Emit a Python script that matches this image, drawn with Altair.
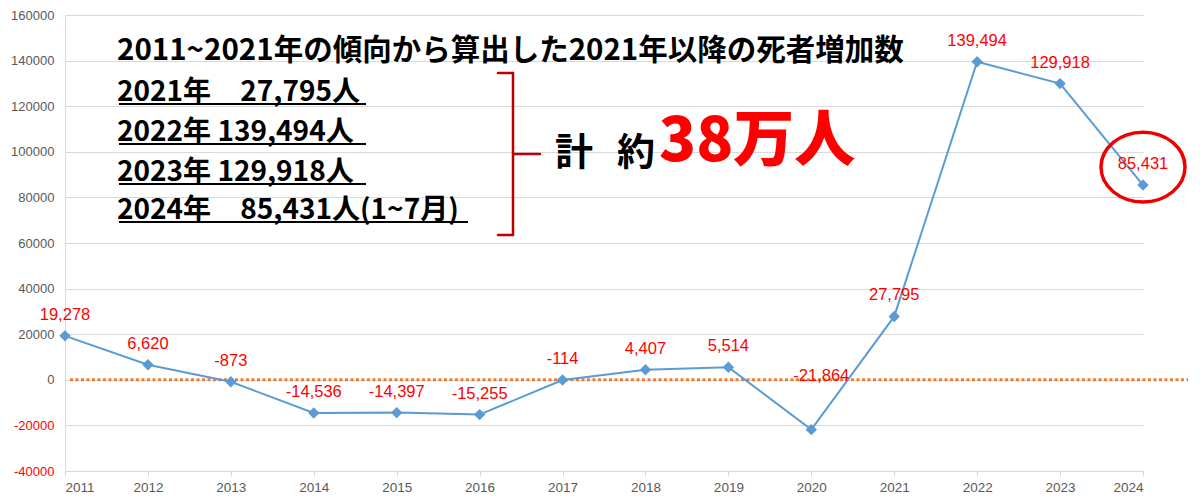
import altair as alt
import pandas as pd

# ---- data ----
years = list(range(2011, 2025))
values = [19278, 6620, -873, -14536, -14397, -15255, -114, 4407, 5514,
          -21864, 27795, 139494, 129918, 85431]
point_labels = [f"{v:,}" for v in values]
y_ticks = list(range(-40000, 160001, 20000))

title_text = "2011~2021年の傾向から算出した2021年以降の死者増加数"
note_lines = [
    "2021年 \u2007 27,795人",
    "2022年 139,494人",
    "2023年 129,918人",
    "2024年 \u2007 85,431人(1~7月)",
]
total_word1 = "計"
total_word2 = "約"
total_big = "38万人"

df = pd.DataFrame({"year": years, "value": values, "label": point_labels})
one = pd.DataFrame({"k": [0]})

GRID = "#d9d9d9"
BLUE = "#5b9bd5"
RED = "#ff0000"
CJK = "Noto Sans CJK JP"

xenc = alt.X("year:Q",
             scale=alt.Scale(domain=[2011, 2024], nice=False, zero=False),
             axis=alt.Axis(values=years, labelExpr="'' + datum.value", title=None,
                           grid=False, domainColor=GRID, tickColor=GRID, tickSize=5,
                           labelColor="#595959", labelFont="Liberation Sans",
                           labelFontSize=13.5, labelPadding=4))
yenc = alt.Y("value:Q",
             scale=alt.Scale(domain=[-40000, 160000], nice=False),
             axis=alt.Axis(values=y_ticks, labelExpr="'' + datum.value", title=None,
                           grid=True, gridColor=GRID, domainColor=GRID, tickSize=0,
                           labelPadding=11, labelFont="Liberation Sans", labelFontSize=13,
                           labelColor={"expr": "datum.value < 0 ? '#ff0000' : '#595959'"}))

base = alt.Chart(df)

zero_line = alt.Chart(one).mark_rule(color="#ed7d31", strokeWidth=3, strokeDash=[3, 2.5]).encode(
    x=alt.datum(2011.06), x2=alt.datum(2024.55), y=alt.datum(0))

line = base.mark_line(color=BLUE, strokeWidth=2).encode(x=xenc, y=yenc)
pts = base.mark_point(shape="diamond", filled=True, size=130, color=BLUE, opacity=1).encode(
    x="year:Q", y="value:Q")
lbl = base.transform_filter("datum.year != 2020").mark_text(
    dy=-21, color=RED, font="Liberation Sans", fontSize=16.5).encode(
    x="year:Q", y="value:Q", text="label:N")
lbl2020 = base.transform_filter("datum.year == 2020").mark_text(
    dx=10, dy=-54, color=RED, font="Liberation Sans", fontSize=16.5).encode(
    x="year:Q", y="value:Q", text="label:N")

ellipse = "M-1,0 A1,0.83 0 1,0 1,0 A1,0.83 0 1,0 -1,0 Z"
circle = alt.Chart(one).mark_point(shape=ellipse, size=7056, filled=False, stroke="#ee0000",
                                   strokeWidth=3.5, opacity=1).encode(
    x=alt.datum(2024), y=alt.datum(93300))

layers = [zero_line, line, pts, lbl, lbl2020, circle]

# title annotation
layers.append(alt.Chart(pd.DataFrame({"t": [title_text]})).mark_text(
    align="left", baseline="alphabetic", font=CJK, fontSize=29.5, fontWeight="bold", color="black").encode(
    x=alt.value(52), y=alt.value(45), text="t:N"))

line_y = [86, 126, 166, 204]
under_end = [301, 301, 301, 403]
for t, yy, xe in zip(note_lines, line_y, under_end):
    layers.append(alt.Chart(pd.DataFrame({"t": [t]})).mark_text(
        align="left", baseline="alphabetic", font=CJK, fontSize=28, fontWeight="bold", color="black").encode(
        x=alt.value(52), y=alt.value(yy), text="t:N"))
    layers.append(alt.Chart(one).mark_rule(color="black", strokeWidth=2).encode(
        x=alt.value(54), x2=alt.value(xe), y=alt.value(yy + 3)))

# brace
BR = "#c00000"
for (x1, x2, y1, y2) in [(433, 448, 58, 58), (448, 448, 58, 220), (433, 448, 220, 220), (448, 475, 139, 139)]:
    layers.append(alt.Chart(one).mark_rule(color=BR, strokeWidth=2.5, strokeCap="round").encode(
        x=alt.value(x1), x2=alt.value(x2), y=alt.value(y1), y2=alt.value(y2)))

for t, xx in [(total_word1, 490), (total_word2, 552)]:
    layers.append(alt.Chart(pd.DataFrame({"t": [t]})).mark_text(
        align="left", baseline="middle", font=CJK, fontSize=38, fontWeight="bold", color="black").encode(
        x=alt.value(xx), y=alt.value(139), text="t:N"))
layers.append(alt.Chart(pd.DataFrame({"t": [total_big]})).mark_text(
    align="left", baseline="alphabetic", font=CJK, fontSize=61, fontWeight=900, color=RED).encode(
    x=alt.value(594), y=alt.value(146), text="t:N"))

chart = alt.layer(*layers).properties(
    width=1078, height=456,
    padding={"left": 57, "top": 7, "right": 45, "bottom": 23},
    autosize=alt.AutoSizeParams(type="none"),
    background="white",
).configure_view(strokeWidth=0)

chart.save("out.html", embed_options={"renderer": "svg", "actions": False})
